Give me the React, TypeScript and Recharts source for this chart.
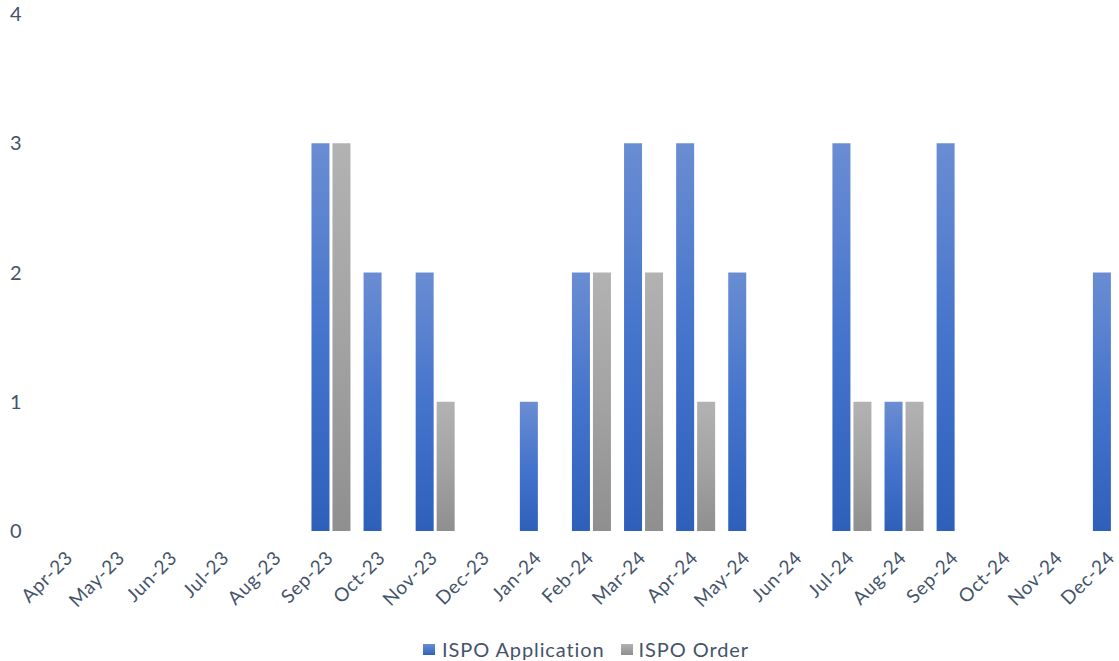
import React from 'react';
import { BarChart, Bar, XAxis, YAxis, Legend } from 'recharts';

const months = ['Apr-23','May-23','Jun-23','Jul-23','Aug-23','Sep-23','Oct-23','Nov-23','Dec-23','Jan-24','Feb-24','Mar-24','Apr-24','May-24','Jun-24','Jul-24','Aug-24','Sep-24','Oct-24','Nov-24','Dec-24'];
const ispoApplication = [0,0,0,0,0,3,2,2,0,1,2,3,3,2,0,3,1,3,0,0,2];
const ispoOrder = [0,0,0,0,0,3,0,1,0,0,2,2,1,0,0,1,1,0,0,0,0];
const yTicks = [0,1,2,3,4];

const data = months.map((m, i) => ({ month: m, app: ispoApplication[i], order: ispoOrder[i] }));

const TEXT = '#44546A';
const FONT = 'Lato, "Open Sans", sans-serif';

const XTick = (props: any) => {
  const { x, y, payload } = props;
  const ax = x + 4;
  const ay = y + 20;
  return (
    <text x={ax} y={ay} transform={`rotate(-45, ${ax}, ${ay})`} textAnchor="end" fill={TEXT}
      fontFamily={FONT} fontSize={19} letterSpacing={0.7}>
      {payload.value}
    </text>
  );
};

const YTick = (props: any) => {
  const { y, payload } = props;
  return (
    <text x={10} y={y} dy={7} textAnchor="start" fill={TEXT} fontFamily={FONT} fontSize={20}>
      {payload.value}
    </text>
  );
};

const LegendContent = () => (
  <div style={{ display: 'flex', alignItems: 'center', fontFamily: FONT, fontSize: 20, color: TEXT, letterSpacing: 0.9 }}>
    <span style={{ display: 'inline-block', width: 12, height: 11, background: 'linear-gradient(#6A8DD2,#2F62BC)', marginRight: 7 }} />
    <span style={{ marginRight: 16 }}>ISPO Application</span>
    <span style={{ display: 'inline-block', width: 12, height: 11, background: 'linear-gradient(#B2B2B2,#8E8E8E)', marginRight: 6 }} />
    <span>ISPO Order</span>
  </div>
);

export default function App() {
  return (
    <div style={{ position: 'absolute', left: 0, top: 0, width: 1119, height: 661, overflow: 'hidden', background: '#fff' }}>
      <BarChart width={1140} height={661} data={data} margin={{ top: 14, right: 2, left: 0, bottom: 0 }}
        barCategoryGap={7} barGap={3}>
        <defs>
          <linearGradient id="gBlue" x1="0" y1="0" x2="0" y2="1">
            <stop offset="0%" stopColor="#6A8DD2" />
            <stop offset="50%" stopColor="#4574CC" />
            <stop offset="100%" stopColor="#2E60BA" />
          </linearGradient>
          <linearGradient id="gGray" x1="0" y1="0" x2="0" y2="1">
            <stop offset="0%" stopColor="#B2B2B2" />
            <stop offset="50%" stopColor="#A3A3A3" />
            <stop offset="100%" stopColor="#8F8F8F" />
          </linearGradient>
        </defs>
        <XAxis dataKey="month" axisLine={false} tickLine={false} interval={0} height={100} tick={<XTick />} />
        <YAxis domain={[0, 4]} ticks={yTicks} width={44} axisLine={false} tickLine={false} tick={<YTick />} />
        <Legend verticalAlign="bottom" height={30} content={<LegendContent />}
          wrapperStyle={{ position: 'absolute', left: 423, top: 637, width: 400 }} />
        <Bar dataKey="app" name="ISPO Application" fill="url(#gBlue)" isAnimationActive={false} />
        <Bar dataKey="order" name="ISPO Order" fill="url(#gGray)" isAnimationActive={false} />
      </BarChart>
    </div>
  );
}
